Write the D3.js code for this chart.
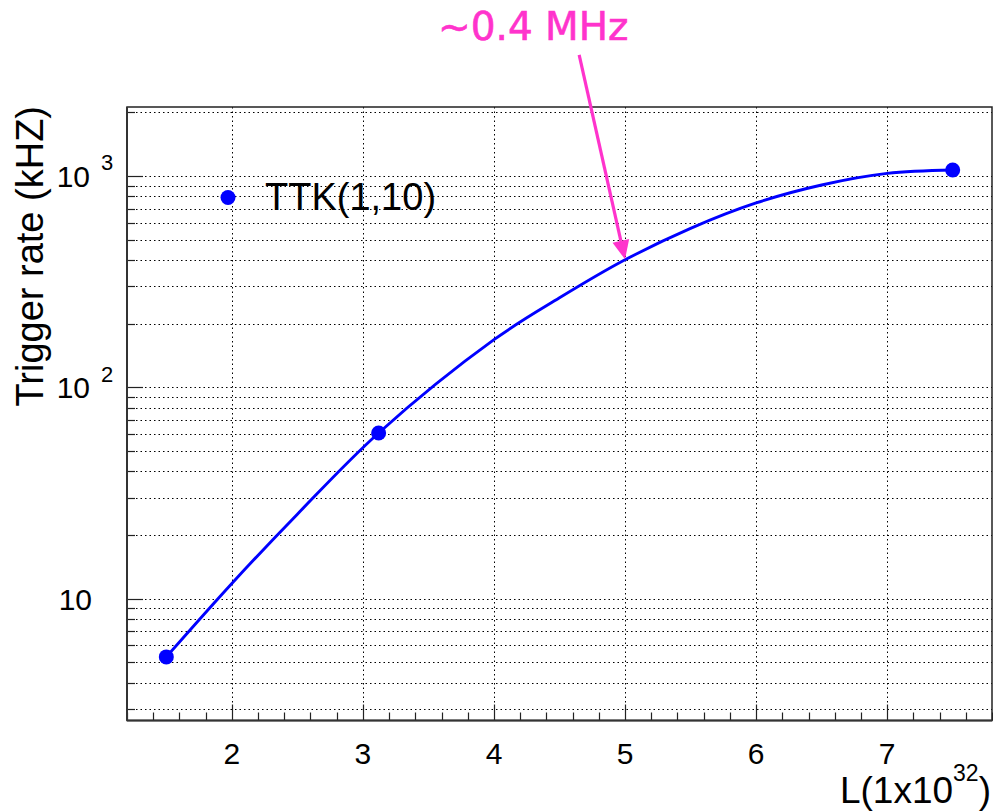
<!DOCTYPE html>
<html>
<head>
<meta charset="utf-8">
<script src="https://cdn.jsdelivr.net/npm/d3@7"></script>
<style>
  body { margin: 0; background: #fff; }
  text { font-family: "Liberation Sans", Arial, sans-serif; }
</style>
</head>
<body>
<div id="chart"></div>
<script>
// Data
const markerL = [1.5, 3.12, 7.5];
const markerRate = [5.3, 60.8, 1067];

// smooth curve drawn through the points (read at several x values)
const curveL = [1.5, 2, 2.5, 3.12, 4, 4.5, 5, 5.5, 6, 6.5, 7, 7.5];
const curveRate = [5.3, 11.8, 25.1, 60.8, 168, 265, 401, 565, 745, 906, 1028, 1067];

const xTicks = [2, 3, 4, 5, 6, 7];
const yMajor = [10, 100, 1000];
const yLabels = ['10', '10^2', '10^3'];

const legendLabel = 'TTK(1,10)';
const noteLabel = '~0.4 MHz';
const noteFrom = { L: 4.65, rate: 3740 };
const noteTo = { L: 5, rate: 403 };

const width = 993, height = 812;

const svg = d3.select('#chart').append('svg')
    .attr('width', width).attr('height', height);

const x = d3.scaleLinear().domain([1.2, 7.8]).range([127, 992]);
const y = d3.scaleLog().domain([2.65, 2120]).range([720.5, 107]);

const [x0, x1] = x.range();
const [y0, y1] = y.range();

// minor values for the log axis: 3..9, 20..90, 200..900, 2000
const yMinor = [];
[1, 10, 100, 1000].forEach(dec => {
    for (let k = 2; k <= 9; k++) {
        const v = k * dec;
        if (v >= y.domain()[0] && v <= y.domain()[1]) yMinor.push(v);
    }
});
const xMinor = d3.range(12, 79, 2).map(d => d / 10).filter(d => !xTicks.includes(d));

// Gridlines (dotted)
const grid = svg.append('g').attr('stroke', '#000').attr('stroke-width', 1)
    .attr('stroke-dasharray', '1.5,3');
grid.selectAll('.hg').data(yMajor.concat(yMinor)).join('line')
    .attr('x1', x0).attr('x2', x1)
    .attr('y1', d => Math.round(y(d)) + 0.5).attr('y2', d => Math.round(y(d)) + 0.5);
grid.selectAll('.vg').data(xTicks).join('line')
    .attr('x1', d => Math.round(x(d)) + 0.5).attr('x2', d => Math.round(x(d)) + 0.5)
    .attr('y1', y0).attr('y2', y1);

// Ticks (inside the frame)
const ticks = svg.append('g').attr('stroke', '#222').attr('stroke-width', 1.2);
ticks.selectAll('.yt').data(yMajor).join('line')
    .attr('x1', x0).attr('x2', x0 + 16)
    .attr('y1', d => Math.round(y(d)) + 0.5).attr('y2', d => Math.round(y(d)) + 0.5);
ticks.selectAll('.ytm').data(yMinor).join('line')
    .attr('x1', x0).attr('x2', x0 + 8)
    .attr('y1', d => Math.round(y(d)) + 0.5).attr('y2', d => Math.round(y(d)) + 0.5);
ticks.selectAll('.xt').data(xTicks).join('line')
    .attr('x1', d => Math.round(x(d)) + 0.5).attr('x2', d => Math.round(x(d)) + 0.5)
    .attr('y1', y0).attr('y2', y0 - 16);
ticks.selectAll('.xtm').data(xMinor).join('line')
    .attr('x1', d => Math.round(x(d)) + 0.5).attr('x2', d => Math.round(x(d)) + 0.5)
    .attr('y1', y0).attr('y2', y0 - 8);

// Frame
svg.append('rect')
    .attr('x', x0).attr('y', y1).attr('width', x1 - x0).attr('height', y0 - y1)
    .attr('fill', 'none').attr('stroke', '#222').attr('stroke-width', 1.5);
svg.append('line').attr('x1', x0).attr('x2', x0).attr('y1', y1).attr('y2', y0)
    .attr('stroke', '#333').attr('stroke-width', 2);
svg.append('line').attr('x1', x0).attr('x2', x1).attr('y1', y0).attr('y2', y0)
    .attr('stroke', '#333').attr('stroke-width', 2);

// X tick labels
svg.selectAll('.xl').data(xTicks).join('text')
    .attr('x', d => x(d)).attr('y', 764)
    .attr('text-anchor', 'middle').style('font-size', '30px')
    .text(d => d);

// Y tick labels
yMajor.forEach((v, i) => {
    const parts = yLabels[i].split('^');
    const ty = y(v) + 11;
    if (parts.length === 1) {
        svg.append('text').attr('x', 92).attr('y', ty)
            .attr('text-anchor', 'end').style('font-size', '30px').text(parts[0]);
    } else {
        svg.append('text').attr('x', 90).attr('y', ty)
            .attr('text-anchor', 'end').style('font-size', '30px').text(parts[0]);
        svg.append('text').attr('x', 101).attr('y', y(v) - 5.5)
            .style('font-size', '22px').text(parts[1]);
    }
});

// Axis titles
svg.append('text')
    .attr('transform', 'translate(43,106) rotate(-90)')
    .attr('text-anchor', 'end').style('font-size', '38px')
    .text('Trigger rate (kHZ)');

const xt = svg.append('text').attr('x', 991).attr('y', 803)
    .attr('text-anchor', 'end').style('font-size', '37px');
xt.append('tspan').text('L(1x10');
xt.append('tspan').attr('dy', -22).style('font-size', '23px').text('32');
xt.append('tspan').attr('dy', 22).text(')');

// Curve
const curveData = curveL.map((d, i) => ({ L: d, rate: curveRate[i] }));
const line = d3.line().x(d => x(d.L)).y(d => y(d.rate)).curve(d3.curveCatmullRom.alpha(0.5));
svg.append('path').datum(curveData)
    .attr('d', line)
    .attr('fill', 'none').attr('stroke', '#0000ff').attr('stroke-width', 2.9);

// Markers
const pts = markerL.map((d, i) => ({ L: d, rate: markerRate[i] }));
svg.selectAll('.pt').data(pts).join('circle')
    .attr('cx', d => x(d.L)).attr('cy', d => y(d.rate)).attr('r', 7.5)
    .attr('fill', '#0000ff');

// Legend
svg.append('circle').attr('cx', 228).attr('cy', 197.5).attr('r', 7.5).attr('fill', '#0000ff');
svg.append('text').attr('x', 265).attr('y', 210).style('font-size', '38px').text(legendLabel);

// Annotation arrow
const pink = '#ff33cc';
const ax0 = x(noteFrom.L), ay0 = y(noteFrom.rate);
const ax1 = x(noteTo.L), ay1 = y(noteTo.rate);
const ang = Math.atan2(ay1 - ay0, ax1 - ax0);
const headLen = 19, headHalf = 8.5;
const bx = ax1 - headLen * Math.cos(ang), by = ay1 - headLen * Math.sin(ang);
svg.append('line')
    .attr('x1', ax0).attr('y1', ay0).attr('x2', bx).attr('y2', by)
    .attr('stroke', pink).attr('stroke-width', 3.2);
svg.append('polygon')
    .attr('points', [
        [ax1, ay1],
        [bx + headHalf * Math.sin(ang), by - headHalf * Math.cos(ang)],
        [bx - headHalf * Math.sin(ang), by + headHalf * Math.cos(ang)]
    ].map(p => p.join(',')).join(' '))
    .attr('fill', pink);

svg.append('text').attr('x', 438).attr('y', 40)
    .style('font-family', '"DejaVu Sans", sans-serif').style('font-size', '39px')
    .attr('fill', pink).attr('stroke', pink).attr('stroke-width', 0.6)
    .text(noteLabel);
</script>
</body>
</html>
